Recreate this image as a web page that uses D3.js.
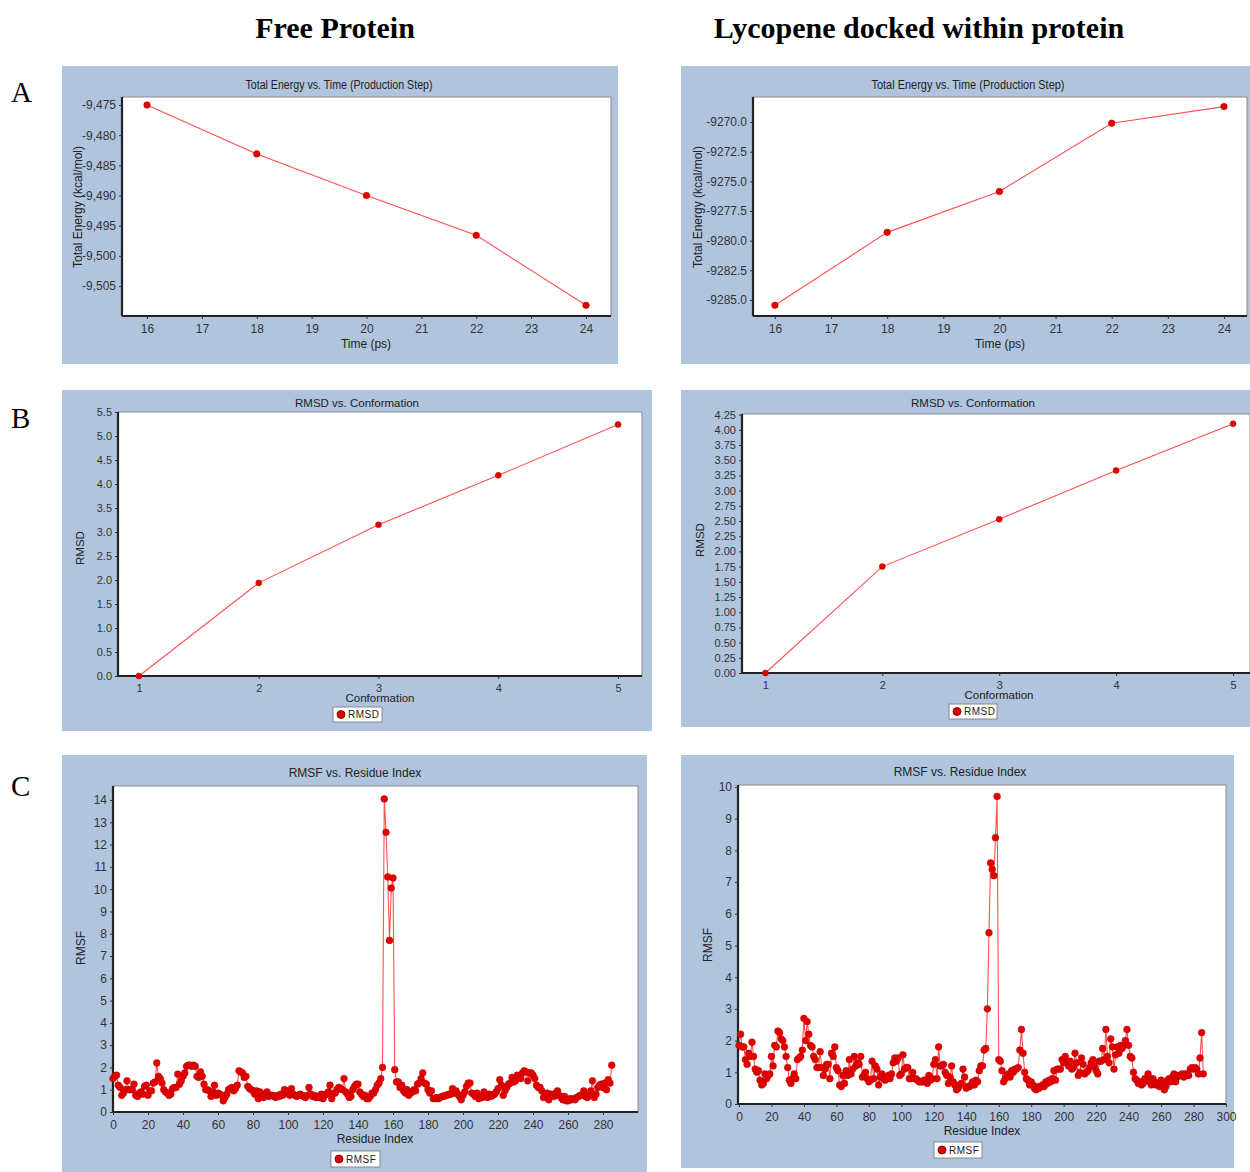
<!DOCTYPE html>
<html><head><meta charset="utf-8">
<script src="https://cdn.jsdelivr.net/npm/d3@7"></script>
<style>body{margin:0;background:#fff} svg{display:block}</style>
</head><body>
<svg id="c" width="1250" height="1172"></svg>
<script>
// ---------- DATA ----------
const timePs = [16, 18, 20, 22, 24];
const energyFree = [-9475.0, -9483.1, -9490.0, -9496.6, -9508.2];
const energyLyc = [-9285.45, -9279.3, -9275.85, -9270.1, -9268.7];
const conformation = [1, 2, 3, 4, 5];
const rmsdFree = [0.0, 1.94, 3.15, 4.18, 5.24];
const rmsdLyc = [0.0, 1.75, 2.53, 3.33, 4.10];
const rmsfFree = [
1.5,1.6,1.65,1.2,1.1,0.75,0.85,1.0,1.4,1.0,
1.0,1.0,1.25,0.75,0.7,0.85,0.9,0.8,1.15,1.2,
0.75,0.95,0.95,1.3,1.35,2.2,1.6,1.5,1.3,1.0,
0.9,0.85,0.75,0.8,1.05,1.1,1.1,1.7,1.25,1.4,
1.6,1.75,2.05,2.1,2.1,2.05,2.1,2.05,1.6,1.55,
1.8,1.6,1.25,1.0,1.0,0.95,0.7,0.9,1.2,0.75,
0.85,0.8,0.75,0.5,0.65,0.8,1.0,1.05,1.1,0.95,
1.05,1.2,1.85,1.8,1.75,1.55,1.6,1.15,1.05,1.0,
0.95,0.8,0.95,0.6,0.9,0.7,0.65,0.8,0.9,0.7,
0.75,0.75,0.7,0.65,0.75,0.7,0.8,0.75,1.0,0.85,
0.95,0.75,1.05,0.8,0.75,0.7,0.75,0.8,0.75,0.7,
0.65,0.75,1.1,0.8,0.7,0.75,0.65,0.7,0.65,0.8,
0.6,0.75,0.8,0.9,1.2,0.6,0.85,0.85,1.0,1.1,
1.05,1.0,1.5,0.9,0.8,0.65,0.7,1.0,1.15,1.25,
1.25,0.9,0.8,0.7,0.75,0.6,0.6,0.7,0.85,0.85,
1.0,1.2,1.3,1.5,2.0,14.05,12.55,10.55,7.7,10.05,
10.5,1.9,1.35,1.35,1.1,1.2,0.95,0.85,1.0,0.75,
0.85,0.9,1.0,0.95,1.25,1.3,1.5,1.75,1.3,1.25,
1.0,0.85,0.95,0.6,0.6,0.65,0.6,0.65,0.7,0.7,
0.75,0.75,0.8,0.8,1.05,0.85,0.95,0.8,0.7,0.55,
0.75,0.9,1.15,1.3,1.3,0.85,0.8,0.7,0.85,0.6,
0.7,0.65,0.9,0.7,0.65,0.8,0.7,0.75,0.8,0.9,
1.05,1.45,1.2,0.75,0.95,1.1,1.25,1.3,1.55,1.35,
1.4,1.65,1.55,1.5,1.75,1.85,1.8,1.4,1.75,1.75,
1.65,1.5,1.2,1.1,1.1,0.95,0.65,0.8,0.85,0.55,
0.8,0.75,0.7,0.85,0.95,0.75,0.65,0.55,0.7,0.5,
0.5,0.6,0.55,0.6,0.55,0.65,0.7,0.75,0.75,0.95,
0.7,0.65,0.75,0.95,1.4,0.65,0.8,1.1,1.2,1.25,
1.1,1.3,1.0,1.45,1.3,2.1];
const rmsfLyc = [
1.85,2.2,1.8,1.8,1.4,1.25,1.6,1.5,1.95,1.5,
1.1,1.0,1.05,0.75,0.6,0.65,0.95,0.8,0.9,0.95,
1.5,1.2,1.85,1.8,2.3,2.25,2.05,2.0,1.8,1.5,
1.15,0.75,0.65,0.8,0.95,0.8,1.4,1.45,1.5,1.7,
2.7,2.0,2.6,2.2,1.85,1.8,1.5,1.4,1.15,1.15,
1.65,1.15,0.9,1.1,1.25,1.25,0.8,1.6,1.5,1.8,
1.15,1.05,0.6,0.55,0.9,0.65,1.05,0.9,1.4,0.95,
1.1,1.5,1.2,1.3,1.25,1.5,0.85,0.9,1.0,0.8,
0.7,0.75,1.35,0.8,1.2,1.1,0.6,0.85,0.95,0.8,
0.75,0.85,0.9,0.8,0.95,1.3,1.45,1.35,1.45,0.9,
0.95,1.55,1.1,1.15,1.15,0.8,0.8,1.0,0.8,0.8,
0.75,0.7,0.7,0.7,0.75,0.75,0.65,0.9,0.75,0.8,
1.25,1.4,0.8,1.8,1.2,1.2,1.25,1.0,0.9,0.65,
0.85,1.2,0.7,0.6,0.45,0.5,0.6,0.65,1.1,0.85,
0.5,0.55,0.55,0.6,0.7,0.6,0.75,0.7,1.05,1.2,
1.2,1.7,1.75,3.0,5.4,7.6,7.4,7.2,8.4,9.7,
1.4,1.35,1.05,0.7,0.8,0.9,0.95,0.85,1.05,1.0,
1.1,1.1,1.15,1.7,2.35,1.6,1.0,0.8,0.75,0.6,
0.7,0.6,0.5,0.45,0.55,0.5,0.55,0.6,0.55,0.7,
0.65,0.75,0.7,0.8,1.05,0.75,1.1,1.1,1.1,1.4,
1.3,1.5,1.3,1.2,1.35,1.1,1.15,1.6,1.3,0.9,
1.0,1.45,1.25,0.95,1.0,1.05,1.15,1.3,1.4,1.2,
1.05,0.95,1.35,1.35,1.75,1.4,2.35,1.5,1.3,2.05,
1.8,1.1,1.55,1.8,1.6,1.85,1.75,1.85,2.0,2.35,
1.85,1.5,1.45,1.0,0.8,0.75,0.65,0.7,0.6,0.65,
0.8,0.75,0.95,0.7,0.6,0.8,0.7,0.6,0.65,0.55,
0.75,0.6,0.45,0.55,0.75,0.8,0.7,0.85,0.95,0.7,
0.85,0.9,0.9,0.95,0.85,0.95,0.9,0.9,1.1,1.15,
1.1,1.15,1.1,0.95,1.45,2.25,0.95];
const timeTicks = [16, 17, 18, 19, 20, 21, 22, 23, 24];
const energyFreeTicks = [-9475, -9480, -9485, -9490, -9495, -9500, -9505];
const energyLycTicks = [-9270, -9272.5, -9275, -9277.5, -9280, -9282.5, -9285];
const confTicks = [1, 2, 3, 4, 5];
const rmsdFreeTicks = [0, 0.5, 1, 1.5, 2, 2.5, 3, 3.5, 4, 4.5, 5, 5.5];
const rmsdLycTicks = [0, 0.25, 0.5, 0.75, 1, 1.25, 1.5, 1.75, 2, 2.25, 2.5, 2.75, 3, 3.25, 3.5, 3.75, 4, 4.25];
const rmsfFreeTicks = [0,1,2,3,4,5,6,7,8,9,10,11,12,13,14];
const rmsfLycTicks = [0,1,2,3,4,5,6,7,8,9,10];
const residueFreeTicks = [0,20,40,60,80,100,120,140,160,180,200,220,240,260,280];
const residueLycTicks = [0,20,40,60,80,100,120,140,160,180,200,220,240,260,280,300];
const headers = ["Free Protein", "Lycopene docked within protein"];
const rowLabels = ["A", "B", "C"];

// ---------- DRAW ----------
const svg = d3.select("#c");
const SANS = "'Liberation Sans', Arial, sans-serif";
const SERIF = "'Liberation Serif', 'Times New Roman', serif";
const hy = f => (d => f(d).replace("\u2212", "-"));

svg.append("text").attr("x", 335).attr("y", 38).attr("text-anchor", "middle")
  .attr("font-family", SERIF).attr("font-weight", "bold").attr("font-size", 30).text(headers[0]);
svg.append("text").attr("x", 919).attr("y", 38).attr("text-anchor", "middle")
  .attr("font-family", SERIF).attr("font-weight", "bold").attr("font-size", 30).text(headers[1]);
[[102], [428], [796]].forEach((p, i) => {
  svg.append("text").attr("x", 11).attr("y", p[0]).attr("font-family", SERIF)
    .attr("font-size", 29).text(rowLabels[i]);
});

function panel(o) {
  const g = svg.append("g");
  g.append("rect").attr("x", o.bx).attr("y", o.by).attr("width", o.bw).attr("height", o.bh)
    .attr("fill", "#b0c4de");
  g.append("rect").attr("x", o.pl).attr("y", o.pt).attr("width", o.pr - o.pl).attr("height", o.pb - o.pt)
    .attr("fill", "#fff").attr("stroke", "#8a8a8a").attr("stroke-width", 1);
  const x = d3.scaleLinear().domain(o.xd).range([o.pl, o.pr]);
  const y = d3.scaleLinear().domain(o.yd).range([o.pb, o.pt]);

  const ax = g.append("g").attr("transform", `translate(0,${o.pb})`)
    .call(d3.axisBottom(x).tickValues(o.xt).tickFormat(o.xf).tickSize(3).tickSizeOuter(0));
  const ay = g.append("g").attr("transform", `translate(${o.pl},0)`)
    .call(d3.axisLeft(y).tickValues(o.yt).tickFormat(o.yf).tickSize(3).tickSizeOuter(0));
  [ax, ay].forEach(a => {
    a.select(".domain").attr("stroke", "#222").attr("stroke-width", 2.2);
    a.selectAll(".tick line").attr("stroke", "#333");
    a.selectAll(".tick text").attr("fill", "#333").attr("font-family", SANS)
      .attr("font-size", o.fs || 12);
  });
  ax.select(".domain").attr("d", `M${o.pl},0H${o.pr}`);
  ay.select(".domain").attr("d", `M0,${o.pt}V${o.pb}`);
  ax.selectAll(".tick text").attr("dy", "0.9em");

  const pts = o.xs.map((xv, i) => [xv, o.ys[i]]);
  g.append("path").datum(pts).attr("fill", "none").attr("stroke", "#ff5050")
    .attr("stroke-width", 1.1)
    .attr("d", d3.line().x(d => x(d[0])).y(d => y(d[1])));
  g.selectAll("circle.pt").data(pts).enter().append("circle").attr("class", "pt")
    .attr("cx", d => x(d[0])).attr("cy", d => y(d[1])).attr("r", o.r)
    .attr("fill", "#e00000").attr("stroke", "#c00000").attr("stroke-width", 0.5);

  const t = g.append("text").attr("x", o.tx).attr("y", o.ty).attr("text-anchor", "middle")
    .attr("font-family", SANS).attr("font-size", o.tfs || 12).attr("fill", "#222").text(o.title);
  if (o.tlen) t.attr("textLength", o.tlen).attr("lengthAdjust", "spacingAndGlyphs");
  g.append("text").attr("x", o.xlx).attr("y", o.xly).attr("text-anchor", "middle")
    .attr("font-family", SANS).attr("font-size", o.lfs || 12).attr("fill", "#222").text(o.xl);
  g.append("text").attr("transform", `translate(${o.ylx},${o.yly}) rotate(-90)`).attr("text-anchor", "middle")
    .attr("font-family", SANS).attr("font-size", o.lfs || 12).attr("fill", "#222").text(o.yl);
  if (o.leg) {
    const [lx, ly, lw, lh] = o.leg;
    g.append("rect").attr("x", lx).attr("y", ly).attr("width", lw).attr("height", lh)
      .attr("fill", "#fff").attr("stroke", "#888");
    g.append("circle").attr("cx", lx + 8).attr("cy", ly + lh / 2).attr("r", 4)
      .attr("fill", "#e00000").attr("stroke", "#600").attr("stroke-width", 0.8);
    g.append("text").attr("x", lx + 15).attr("y", ly + lh / 2 + 3.5).attr("font-family", SANS)
      .attr("font-size", 10).attr("letter-spacing", 0.5).attr("fill", "#222").text(o.legText);
  }
}

panel({bx: 62, by: 66, bw: 556, bh: 298, pl: 122, pr: 611, pt: 97, pb: 316,
  xd: [15.544, 24.456], yd: [-9509.97, -9473.67], xt: timeTicks, yt: energyFreeTicks,
  xf: d3.format("d"), yf: hy(d3.format(",")), xs: timePs, ys: energyFree, r: 3.3,
  fs: 12, title: "Total Energy vs. Time (Production Step)", tlen: 187, tx: 339, ty: 89,
  xl: "Time (ps)", xlx: 366, xly: 348, yl: "Total Energy (kcal/mol)", ylx: 82, yly: 207});
panel({bx: 681, by: 66, bw: 575, bh: 298, pl: 753, pr: 1247, pt: 97, pb: 316,
  xd: [15.61, 24.41], yd: [-9286.35, -9267.89], xt: timeTicks, yt: energyLycTicks,
  xf: d3.format("d"), yf: hy(d3.format(".1f")), xs: timePs, ys: energyLyc, r: 3.3,
  fs: 12, title: "Total Energy vs. Time (Production Step)", tlen: 193, tx: 968, ty: 89,
  xl: "Time (ps)", xlx: 1000, xly: 348, yl: "Total Energy (kcal/mol)", ylx: 702, yly: 207});
panel({bx: 62, by: 390, bw: 590, bh: 341, pl: 118, pr: 642, pt: 412, pb: 676,
  xd: [0.825, 5.2], yd: [0, 5.5], xt: confTicks, yt: rmsdFreeTicks,
  xf: d3.format("d"), yf: d3.format(".1f"), xs: conformation, ys: rmsdFree, r: 3,
  fs: 11, tfs: 11.5, lfs: 11.5, title: "RMSD vs. Conformation", tx: 357, ty: 407,
  xl: "Conformation", xlx: 380, xly: 702, yl: "RMSD", ylx: 84, yly: 548,
  leg: [333, 707, 49, 15], legText: "RMSD"});
panel({bx: 681, by: 390, bw: 575, bh: 337, pl: 742, pr: 1250, pt: 414, pb: 673,
  xd: [0.8, 5.145], yd: [0, 4.26], xt: confTicks, yt: rmsdLycTicks,
  xf: d3.format("d"), yf: d3.format(".2f"), xs: conformation, ys: rmsdLyc, r: 3,
  fs: 11, tfs: 11.5, lfs: 11.5, title: "RMSD vs. Conformation", tx: 973, ty: 407,
  xl: "Conformation", xlx: 999, xly: 699, yl: "RMSD", ylx: 704, yly: 540,
  leg: [949, 704, 48, 15], legText: "RMSD"});
panel({bx: 62, by: 755, bw: 585, bh: 420, pl: 113, pr: 638, pt: 786, pb: 1112,
  xd: [0, 300], yd: [0, 14.63], xt: residueFreeTicks, yt: rmsfFreeTicks,
  xf: d3.format("d"), yf: d3.format("d"), xs: rmsfFree.map((v, i) => i), ys: rmsfFree, r: 3.4,
  fs: 12, tfs: 12, lfs: 12, title: "RMSF vs. Residue Index", tx: 355, ty: 777,
  xl: "Residue Index", xlx: 375, xly: 1143, yl: "RMSF", ylx: 85, yly: 948,
  leg: [331, 1151, 49, 16], legText: "RMSF"});
panel({bx: 681, by: 755, bw: 553, bh: 413, pl: 738, pr: 1226, pt: 785, pb: 1104,
  xd: [-0.6, 300], yd: [0, 10.06], xt: residueLycTicks, yt: rmsfLycTicks,
  xf: d3.format("d"), yf: d3.format("d"), xs: rmsfLyc.map((v, i) => i), ys: rmsfLyc, r: 3.4,
  fs: 12, tfs: 12, lfs: 12, title: "RMSF vs. Residue Index", tx: 960, ty: 776,
  xl: "Residue Index", xlx: 982, xly: 1135, yl: "RMSF", ylx: 712, yly: 945,
  leg: [934, 1142, 48, 16], legText: "RMSF"});
</script>
</body></html>
